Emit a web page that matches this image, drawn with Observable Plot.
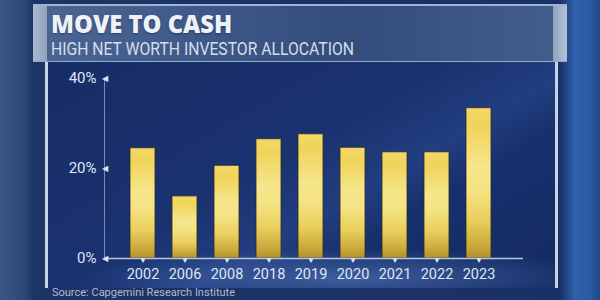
<!DOCTYPE html>
<html>
<head>
<meta charset="utf-8">
<script src="https://cdn.jsdelivr.net/npm/d3@7"></script>
<script src="https://cdn.jsdelivr.net/npm/@observablehq/plot@0.6"></script>
<style>
  html, body { margin:0; padding:0; }
  body { width:600px; height:300px; overflow:hidden; position:relative;
    background: linear-gradient(90deg, #3b5682 0px, #2c4774 25px, #1d3466 33px, #1a3068 560px, #2f62ad 575px, #2b5aa0 590px, #1f4788 600px);
    font-family: Roboto, "Open Sans", sans-serif; }
  #panel { position:absolute; left:45px; top:60px; width:507px; height:228px;
    background:
      radial-gradient(ellipse 260px 30px at 300px 218px, rgba(110,150,220,0.45), rgba(110,150,220,0) 100%),
      linear-gradient(150deg, #182d66 0%, #1a3270 45%, #223e80 60%, #17306c 70%, #142a62 100%);
    border-left:3px solid #c9d4e3; border-right:3px solid #c9d4e3; }
  #titleband { position:absolute; left:33px; top:4px; width:534px; height:58px;
    background: linear-gradient(90deg, rgba(78,104,150,0.95), rgba(52,78,126,0.95) 60%, rgba(70,96,142,0.95));
    border-top:2px solid #9fb4d2; border-bottom:1px solid #94aacb; box-sizing:border-box; }
  #titleband:before { content:""; position:absolute; left:0; top:0; width:14px; height:100%; background:linear-gradient(90deg,#aab8cc,#8fa2bd); }
  #titleband:after { content:""; position:absolute; right:0; top:0; width:14px; height:100%; background:linear-gradient(90deg,#8fa2bd,#b4c2d6); }
  #title { position:absolute; left:51px; top:6px; color:#eef2f8; font-family:"Open Sans", sans-serif; font-weight:800; font-size:25px; line-height:normal; text-shadow:0 1px 2px rgba(0,0,0,0.35); white-space:nowrap; transform:scaleX(0.95); transform-origin:left top; }
  #subtitle { position:absolute; left:51px; top:38px; color:#d6deeb; font-family:Roboto, sans-serif; font-weight:400; font-size:18.3px; line-height:normal; white-space:nowrap; transform:scaleX(0.86); transform-origin:left top; }
  #source { position:absolute; left:52px; top:286px; color:#aebbd0; font-family:Roboto, sans-serif; font-size:11px; white-space:nowrap; }
  #chart { position:absolute; left:0; top:65px; }
</style>
</head>
<body>
<div id="panel"></div>
<div id="titleband"></div>
<div id="title">MOVE TO CASH</div>
<div id="subtitle">HIGH NET WORTH INVESTOR ALLOCATION</div>
<div id="chart"></div>
<div id="source">Source: Capgemini Research Institute</div>
<script>
const years = ["2002","2006","2008","2018","2019","2020","2021","2022","2023"];
const cashShare = [24.5, 13.8, 20.6, 26.5, 27.6, 24.6, 23.6, 23.6, 33.4];
const yTicks = [0, 20, 40];

const data = years.map((y, i) => ({year: y, value: cashShare[i]}));
const labelColor = "#dfe6f2";

const chart = Plot.plot({
  width: 600,
  height: 235,
  marginTop: 13,
  marginBottom: 42,
  marginLeft: 104,
  marginRight: 77,
  style: {background: "transparent", fontFamily: "Roboto, sans-serif", color: labelColor},
  x: {domain: years, padding: 0.41, paddingOuter: 0.62, align: 0.45},
  y: {domain: [0, 40]},
  marks: [
    Plot.frame({anchor: "left", stroke: "#8fa3c4", strokeOpacity: 0.8}),
    Plot.barY(data, {x: "year", y: "value", fill: "url(#goldGrad)", stroke: "#2b2a22", strokeWidth: 1, strokeOpacity: 0.8}),
    Plot.ruleY([0], {stroke: "#b9c6da", strokeWidth: 1.3}),
    Plot.axisY(yTicks, {tickSize: 0, tickPadding: 8, tickFormat: d => d + "%", fontSize: 15, fill: labelColor, label: null}),
    Plot.axisX({tickSize: 0, tickPadding: 10, fontSize: 14.5, fill: labelColor, label: null}),
    Plot.text(yTicks, {y: d => d, text: () => "◀", frameAnchor: "left", dx: -3, fontSize: 8, fill: labelColor}),
    Plot.text(years, {x: d => d, text: () => "▼", frameAnchor: "bottom", dy: 4, fontSize: 8, fill: labelColor})
  ]
});

chart.insertAdjacentHTML("afterbegin", `
<defs>
  <linearGradient id="goldGrad" x1="0" y1="0" x2="0" y2="1">
    <stop offset="0%" stop-color="#f3d869"/>
    <stop offset="12%" stop-color="#f0d35a"/>
    <stop offset="40%" stop-color="#f6e68c"/>
    <stop offset="55%" stop-color="#f4e383"/>
    <stop offset="75%" stop-color="#e9cf5c"/>
    <stop offset="92%" stop-color="#c9a83a"/>
    <stop offset="100%" stop-color="#b18f2c"/>
  </linearGradient>
</defs>`);

document.getElementById("chart").appendChild(chart);
</script>
</body>
</html>
